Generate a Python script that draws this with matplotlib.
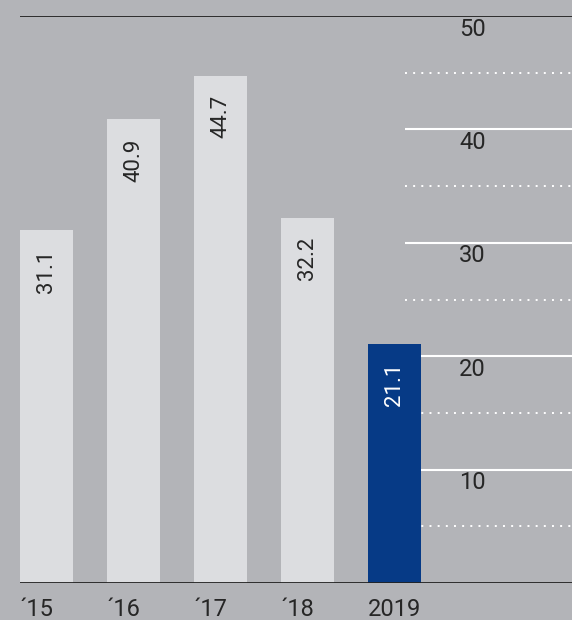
import matplotlib.pyplot as plt
import numpy as np

plt.rcParams["font.family"] = ["Roboto", "DejaVu Sans"]

years = ["´15", "´16", "´17", "´18", "2019"]
values = [31.1, 40.9, 44.7, 32.2, 21.1]
highlight = [False, False, False, False, True]
solid_ticks = [10, 20, 30, 40]
dotted_ticks = [5, 15, 25, 35, 45]
label_ticks = [10, 20, 30, 40, 50]

bg = "#b3b4b8"
bar_light = "#dcdde0"
bar_blue = "#063a86"
text_dark = "#262626"

fig = plt.figure(figsize=(5.72, 6.2), dpi=100)
fig.patch.set_facecolor(bg)
# axes: y=0 at 583px, y=50 at 16px from top
ax = fig.add_axes([0, 37 / 620, 1, 567 / 620])
ax.set_facecolor(bg)
ax.set_xlim(-46.5 / 87, (572 - 46.5) / 87)
ax.set_ylim(0, 50)
ax.axis("off")

x = np.arange(len(values))
grid_x0 = (405 - 46.5) / 87
line_x0 = (20 - 46.5) / 87
x_right = (572 - 46.5) / 87

ax.hlines(solid_ticks, grid_x0, x_right, colors="white", lw=1.5, zorder=1)
ax.hlines(dotted_ticks, grid_x0, x_right, colors="white", lw=1.4,
          linestyles=(0, (1, 3.2)), zorder=1)

colors = [bar_blue if h else bar_light for h in highlight]
ax.bar(x, values, width=53 / 87, color=colors, zorder=2)

for xi, v, h in zip(x, values, highlight):
    ax.annotate(f"{v:.1f}", (xi, v), xytext=(0, -19), textcoords="offset pixels",
                rotation=90, ha="center", va="top", fontsize=16,
                color="white" if h else text_dark, zorder=3)

ax.hlines([0, 50], line_x0, x_right, colors="#222222", lw=1.3, zorder=4)

for t in label_ticks:
    ax.annotate(str(t), ((459 - 46.5) / 87, t), xytext=(0, -13), textcoords="offset pixels",
                ha="left", va="center", fontsize=17, color=text_dark)

for xi, lab in zip(x, years):
    ax.annotate(lab, (xi - 0.5 * 53 / 87, 0), xytext=(0, -26), textcoords="offset pixels",
                ha="left", va="center", fontsize=17, color=text_dark, annotation_clip=False)

fig.savefig("out.png", dpi=100, facecolor=bg)
